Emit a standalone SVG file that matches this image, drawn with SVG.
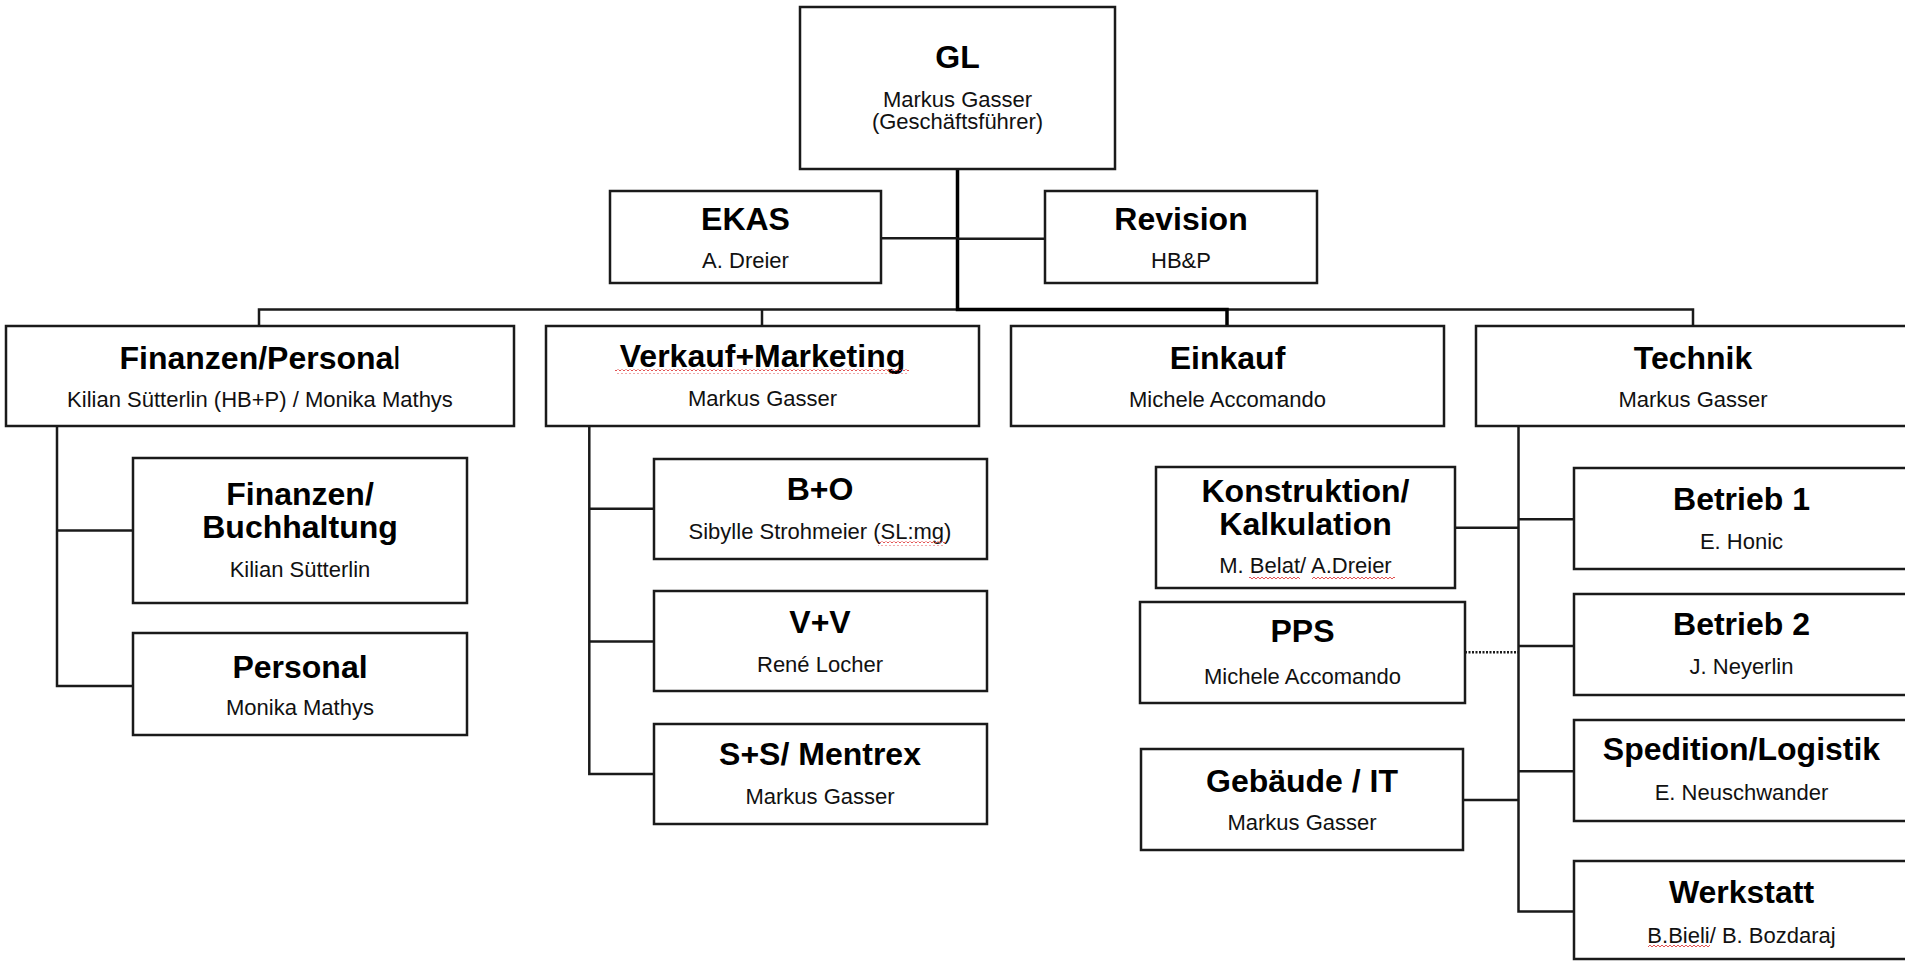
<svg xmlns="http://www.w3.org/2000/svg" width="1905" height="961" viewBox="0 0 1905 961">
<style>
  .box{fill:#fff;stroke:#1a1a1a;stroke-width:2.5}
  .t{font-family:"Liberation Sans",Arial,sans-serif;font-weight:bold;font-size:32px;text-anchor:middle;fill:#000}
  .s{font-family:"Liberation Sans",Arial,sans-serif;font-weight:normal;font-size:22px;text-anchor:middle;fill:#111}
  .c{fill:none;stroke:#1a1a1a;stroke-width:2.5}
  .thick{fill:none;stroke:#000;stroke-width:3.5}
  .dot{fill:none;stroke:#1a1a1a;stroke-width:2.5;stroke-dasharray:2 1.5}
</style>
<defs>
  <pattern id="sq" width="4" height="4" patternUnits="userSpaceOnUse">
    <path d="M0,3 L2,1 L4,3" fill="none" stroke="#e04040" stroke-width="0.9"/>
  </pattern>
</defs>
<rect width="1905" height="961" fill="#fff"/>

<g id="connectors">
  <path class="c" d="M259,326 V309.5 H1693 V326"/>
  <path class="c" d="M762,309.5 V326"/>
  <path class="thick" d="M957.5,169 V309.5 H1227 V326"/>
  <path class="c" d="M881,238.3 H957.5"/>
  <path class="c" d="M957.5,238.7 H1045"/>
  <path class="c" d="M57,426 V686 H133"/>
  <path class="c" d="M57,530.5 H133"/>
  <path class="c" d="M589.3,426 V774 H654"/>
  <path class="c" d="M589.3,508.7 H654"/>
  <path class="c" d="M589.3,641.5 H654"/>
  <path class="c" d="M1518.5,426 V911.5 H1574"/>
  <path class="c" d="M1455,527.7 H1518.5"/>
  <path class="c" d="M1518.5,519.3 H1574"/>
  <path class="c" d="M1518.5,646 H1574"/>
  <path class="c" d="M1463,800 H1518.5"/>
  <path class="c" d="M1518.5,771.3 H1574"/>
  <path class="dot" d="M1465,652.3 H1518"/>
</g>

<g id="gl">
  <rect class="box" x="800" y="7" width="315" height="162"/>
  <text class="t" x="957.5" y="68">GL</text>
  <text class="s" x="957.5" y="107">Markus Gasser</text>
  <text class="s" x="957.5" y="129">(Geschäftsführer)</text>
</g>
<g id="ekas">
  <rect class="box" x="610" y="191" width="271" height="92"/>
  <text class="t" x="745.5" y="229.5">EKAS</text>
  <text class="s" x="745.5" y="268">A. Dreier</text>
</g>
<g id="revision">
  <rect class="box" x="1045" y="191" width="272" height="92"/>
  <text class="t" x="1181" y="230">Revision</text>
  <text class="s" x="1181" y="268">HB&amp;P</text>
</g>
<g id="finanzen-personal">
  <rect class="box" x="6" y="326" width="508" height="100"/>
  <text class="t" x="260" y="369">Finanzen/Persona<tspan font-weight="normal">l</tspan></text>
  <text class="s" x="260" y="406.5">Kilian Sütterlin (HB+P) / Monika Mathys</text>
</g>
<g id="verkauf-marketing">
  <rect class="box" x="546" y="326" width="433" height="100"/>
  <text class="t" x="762.5" y="367">Verkauf+Marketing</text>
  <rect x="615" y="369.5" width="294" height="4" fill="url(#sq)"/>
  <text class="s" x="762.5" y="406">Markus Gasser</text>
</g>
<g id="einkauf">
  <rect class="box" x="1011" y="326" width="433" height="100"/>
  <text class="t" x="1227.5" y="368.5">Einkauf</text>
  <text class="s" x="1227.5" y="406.5">Michele Accomando</text>
</g>
<g id="technik">
  <rect class="box" x="1476" y="326" width="434" height="100"/>
  <text class="t" x="1693" y="368.5">Technik</text>
  <text class="s" x="1693" y="406.5">Markus Gasser</text>
</g>
<g id="finanzen-buchhaltung">
  <rect class="box" x="133" y="458" width="334" height="145"/>
  <text class="t" x="300" y="505">Finanzen/</text>
  <text class="t" x="300" y="538">Buchhaltung</text>
  <text class="s" x="300" y="577">Kilian Sütterlin</text>
</g>
<g id="personal">
  <rect class="box" x="133" y="633" width="334" height="102"/>
  <text class="t" x="300" y="678">Personal</text>
  <text class="s" x="300" y="715">Monika Mathys</text>
</g>
<g id="b-o">
  <rect class="box" x="654" y="459" width="333" height="100"/>
  <text class="t" x="820" y="500">B+O</text>
  <text class="s" x="820" y="539">Sibylle Strohmeier (SL:mg)</text>
  <rect x="878" y="541.5" width="67" height="4" fill="url(#sq)"/>
</g>
<g id="v-v">
  <rect class="box" x="654" y="591" width="333" height="100"/>
  <text class="t" x="820" y="633">V+V</text>
  <text class="s" x="820" y="672">René Locher</text>
</g>
<g id="s-s-mentrex">
  <rect class="box" x="654" y="724" width="333" height="100"/>
  <text class="t" x="820" y="765">S+S/ Mentrex</text>
  <text class="s" x="820" y="804">Markus Gasser</text>
</g>
<g id="konstruktion">
  <rect class="box" x="1156" y="467" width="299" height="121"/>
  <text class="t" x="1305.5" y="502">Konstruktion/</text>
  <text class="t" x="1305.5" y="535">Kalkulation</text>
  <text class="s" x="1305.5" y="573">M. Belat/ A.Dreier</text>
  <rect x="1249" y="576" width="51" height="4" fill="url(#sq)"/>
  <rect x="1312" y="576" width="83" height="4" fill="url(#sq)"/>
</g>
<g id="pps">
  <rect class="box" x="1140" y="602" width="325" height="101"/>
  <text class="t" x="1302.5" y="642">PPS</text>
  <text class="s" x="1302.5" y="684">Michele Accomando</text>
</g>
<g id="gebaeude-it">
  <rect class="box" x="1141" y="749" width="322" height="101"/>
  <text class="t" x="1302" y="792">Gebäude / IT</text>
  <text class="s" x="1302" y="830">Markus Gasser</text>
</g>
<g id="betrieb1">
  <rect class="box" x="1574" y="468" width="336" height="101"/>
  <text class="t" x="1741.5" y="509.5">Betrieb 1</text>
  <text class="s" x="1741.5" y="548.5">E. Honic</text>
</g>
<g id="betrieb2">
  <rect class="box" x="1574" y="594" width="336" height="101"/>
  <text class="t" x="1741.5" y="635">Betrieb 2</text>
  <text class="s" x="1741.5" y="673.5">J. Neyerlin</text>
</g>
<g id="spedition">
  <rect class="box" x="1574" y="720" width="336" height="101"/>
  <text class="t" x="1741.5" y="760">Spedition/Logistik</text>
  <text class="s" x="1741.5" y="800">E. Neuschwander</text>
</g>
<g id="werkstatt">
  <rect class="box" x="1574" y="861" width="336" height="98"/>
  <text class="t" x="1741.5" y="902.5">Werkstatt</text>
  <text class="s" x="1741.5" y="943">B.Bieli/ B. Bozdaraj</text>
  <rect x="1648" y="943.5" width="62" height="4" fill="url(#sq)"/>
</g>
</svg>
